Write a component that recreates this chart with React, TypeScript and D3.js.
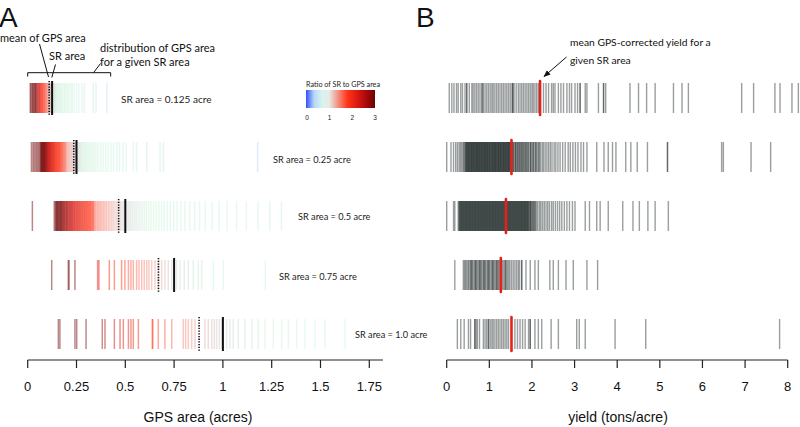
import React from "react";
import * as d3 from "d3";

// ---------- DATA ----------
const srAreas = [0.125, 0.25, 0.5, 0.75, 1.0];
const srLabels = [
  "SR area = 0.125 acre",
  "SR area = 0.25 acre",
  "SR area = 0.5 acre",
  "SR area = 0.75 acre",
  "SR area = 1.0 acre",
];

// GPS-measured areas (acres) for each SR area
const gpsArea0125 = [
  0.013, 0.017, 0.022, 0.026, 0.029, 0.034, 0.037, 0.041, 0.043, 0.048, 0.051, 0.055, 0.058, 0.061,
  0.063, 0.067, 0.07, 0.074, 0.076, 0.079, 0.083, 0.086, 0.088, 0.091, 0.094, 0.097, 0.099, 0.102,
  0.105, 0.108, 0.11, 0.113, 0.116, 0.118, 0.121, 0.123, 0.128, 0.132, 0.136, 0.141, 0.145, 0.151,
  0.155, 0.161, 0.166, 0.172, 0.178, 0.186, 0.19, 0.198, 0.205, 0.212, 0.221, 0.228, 0.238, 0.251,
  0.262, 0.278, 0.29, 0.336, 0.35, 0.405,
];
const gpsArea025 = [
  0.019, 0.027, 0.033, 0.04, 0.046, 0.052, 0.058, 0.063, 0.067, 0.071, 0.075, 0.078, 0.082, 0.086,
  0.09, 0.094, 0.098, 0.102, 0.106, 0.11, 0.114, 0.118, 0.122, 0.127, 0.131, 0.136, 0.14, 0.145,
  0.15, 0.155, 0.16, 0.165, 0.17, 0.175, 0.18, 0.186, 0.191, 0.197, 0.202, 0.208, 0.213, 0.219,
  0.224, 0.229, 0.234, 0.239, 0.244, 0.248, 0.253, 0.258, 0.264, 0.27, 0.276, 0.283, 0.29, 0.297,
  0.305, 0.312, 0.32, 0.328, 0.337, 0.345, 0.355, 0.365, 0.376, 0.388, 0.4, 0.413, 0.427, 0.44,
  0.456, 0.47, 0.488, 0.505, 0.541, 0.558, 0.61, 0.678, 0.695, 1.178,
  0.069, 0.073, 0.08, 0.084, 0.088, 0.092, 0.096, 0.1, 0.104, 0.108, 0.112, 0.116, 0.12, 0.125,
  0.129, 0.133, 0.138, 0.143, 0.148, 0.153, 0.158, 0.163, 0.168, 0.173, 0.178, 0.183, 0.189, 0.194,
];
const gpsArea05 = [
  0.024, 0.136, 0.142, 0.148, 0.153, 0.16, 0.166, 0.172, 0.178, 0.184, 0.19, 0.197, 0.203, 0.209,
  0.216, 0.222, 0.228, 0.235, 0.241, 0.248, 0.255, 0.262, 0.268, 0.275, 0.282, 0.289, 0.296, 0.303,
  0.31, 0.318, 0.325, 0.333, 0.34, 0.348, 0.356, 0.364, 0.372, 0.38, 0.388, 0.396, 0.404, 0.413,
  0.421, 0.43, 0.438, 0.447, 0.456, 0.465, 0.474, 0.483, 0.492, 0.502, 0.508, 0.517, 0.526, 0.535,
  0.545, 0.555, 0.565, 0.575, 0.586, 0.597, 0.608, 0.62, 0.632, 0.645, 0.658, 0.672, 0.686, 0.7,
  0.715, 0.73, 0.748, 0.765, 0.785, 0.805, 0.83, 0.855, 0.88, 0.91, 0.945, 0.98, 1.02, 1.07, 1.12,
  1.18, 1.24, 1.3,
  0.145, 0.151, 0.157, 0.163, 0.169, 0.175, 0.181, 0.187, 0.194, 0.2, 0.206, 0.213, 0.219, 0.225,
  0.231, 0.238, 0.245, 0.252, 0.258, 0.265, 0.272, 0.279, 0.286, 0.293, 0.3, 0.307, 0.314, 0.321,
  0.329, 0.337,
];
const gpsArea075 = [
  0.123, 0.208, 0.212, 0.242, 0.358, 0.365, 0.418, 0.444, 0.481, 0.498, 0.516, 0.529, 0.541, 0.558,
  0.57, 0.584, 0.597, 0.61, 0.621, 0.635, 0.652, 0.669, 0.686, 0.703, 0.72, 0.738, 0.763, 0.78,
  0.802, 0.823, 0.848, 0.874, 0.891, 0.951, 1.002, 1.217,
];
const gpsArea10 = [
  0.157, 0.165, 0.242, 0.251, 0.299, 0.382, 0.396, 0.444, 0.473, 0.49, 0.516, 0.529, 0.541, 0.567,
  0.638, 0.641, 0.669, 0.703, 0.738, 0.797, 0.809, 0.823, 0.84, 0.857, 0.908, 0.925, 0.943, 0.956,
  0.968, 0.982, 0.994, 1.019, 1.036, 1.053, 1.079, 1.113, 1.148, 1.181, 1.216, 1.258, 1.301, 1.335,
  1.378, 1.421, 1.472, 1.523, 1.626,
];
const gpsMeans = [0.11, 0.236, 0.466, 0.67, 0.878];

// GPS-corrected yields (tons/acre) for each SR area
const yield0125 = [
  0.06, 0.12, 0.17, 0.23, 0.27, 0.33, 0.37, 0.43, 0.47, 0.47, 0.53, 0.59, 0.62, 0.66, 0.7, 0.74, 0.78,
  0.82, 0.84, 0.86, 0.9, 0.94, 0.98, 1.02, 1.06, 1.09, 1.13, 1.17, 1.21, 1.25, 1.29, 1.33, 1.37, 1.41,
  1.45, 1.49, 1.53, 1.55, 1.55, 1.58, 1.63, 1.68, 1.72, 1.76, 1.8, 1.84, 1.88, 1.92, 1.96, 2.0, 2.03,
  2.07, 2.11, 2.15, 2.27, 2.33, 2.39, 2.46, 2.5, 2.54, 2.62, 2.68, 2.74, 2.82, 2.88, 2.93, 3.01, 3.07,
  3.13, 3.13, 3.25, 3.29, 3.56, 3.68, 3.68, 3.73, 4.3, 4.5, 4.69, 4.89, 5.32, 5.52, 5.67, 6.92, 7.2,
  7.7, 7.82, 8.1, 8.25,
];
const yield025 = [
  0.0, 0.1, 0.16, 0.21, 0.25, 0.29, 0.32, 0.35, 0.38, 0.4, 0.42, 0.44, 0.45, 0.47, 0.48, 0.5, 0.51,
  0.52, 0.54, 0.55, 0.57, 0.58, 0.59, 0.61, 0.62, 0.63, 0.65, 0.66, 0.68, 0.69, 0.7, 0.72, 0.73,
  0.74, 0.76, 0.77, 0.78, 0.8, 0.81, 0.82, 0.84, 0.85, 0.87, 0.88, 0.89, 0.91, 0.92, 0.93, 0.95,
  0.96, 0.97, 0.99, 1.0, 1.01, 1.03, 1.04, 1.06, 1.07, 1.08, 1.1, 1.11, 1.12, 1.14, 1.15, 1.16,
  1.18, 1.19, 1.21, 1.22, 1.23, 1.25, 1.26, 1.27, 1.29, 1.3, 1.32, 1.33, 1.34, 1.36, 1.37, 1.38,
  1.4, 1.41, 1.43, 1.44, 1.45, 1.47, 1.48, 1.5, 1.51, 1.53, 1.55, 1.57, 1.6, 1.62, 1.64, 1.67, 1.69,
  1.72, 1.74, 1.77, 1.79, 1.82, 1.85, 1.87, 1.9, 1.93, 1.96, 1.98, 2.01, 2.04, 2.07, 2.1, 2.13, 2.17,
  2.2, 2.24, 2.27, 2.31, 2.35, 2.39, 2.43, 2.47, 2.52, 2.56, 2.61, 2.66, 2.72, 2.78, 2.85, 2.9, 2.96,
  3.02, 3.08, 3.15, 3.21, 3.29, 3.52, 3.69, 3.79, 3.89, 3.97, 4.2, 4.32, 4.47, 4.71, 5.18, 5.18,
  6.45, 6.49, 7.14, 7.6,
  0.455, 0.485, 0.515, 0.545, 0.575, 0.605, 0.635, 0.665, 0.695, 0.725, 0.755, 0.785, 0.815, 0.845,
  0.875, 0.905, 0.935, 0.965, 0.995, 1.025, 1.055, 1.085, 1.115, 1.145, 1.175, 1.205, 1.235, 1.265,
  1.295, 1.325, 1.355, 1.385, 1.415, 1.445, 1.475, 1.505, 1.56, 1.61, 1.66, 1.71, 1.76, 1.81, 1.86,
  1.91, 1.97, 2.03, 2.09, 2.16,
];
const yield05 = [
  0.0, 0.16, 0.19, 0.27, 0.29, 0.3, 0.32, 0.33, 0.35, 0.36, 0.38, 0.39, 0.41, 0.42, 0.44, 0.45, 0.47,
  0.48, 0.5, 0.51, 0.53, 0.54, 0.56, 0.57, 0.59, 0.6, 0.62, 0.63, 0.65, 0.66, 0.68, 0.69, 0.71, 0.72,
  0.74, 0.75, 0.77, 0.78, 0.8, 0.81, 0.83, 0.84, 0.86, 0.87, 0.89, 0.9, 0.92, 0.93, 0.95, 0.96, 0.98,
  0.99, 1.01, 1.02, 1.04, 1.05, 1.07, 1.08, 1.1, 1.11, 1.13, 1.14, 1.16, 1.17, 1.19, 1.2, 1.22, 1.23,
  1.25, 1.26, 1.28, 1.29, 1.31, 1.32, 1.34, 1.35, 1.37, 1.38, 1.4, 1.42, 1.43, 1.45, 1.47, 1.48, 1.5,
  1.52, 1.53, 1.55, 1.57, 1.58, 1.6, 1.62, 1.64, 1.65, 1.67, 1.69, 1.71, 1.73, 1.75, 1.77, 1.79, 1.81,
  1.83, 1.85, 1.87, 1.89, 1.91, 1.93, 1.96, 1.98, 2.0, 2.03, 2.05, 2.08, 2.11, 2.14, 2.18, 2.21, 2.25,
  2.29, 2.33, 2.37, 2.41, 2.46, 2.5, 2.55, 2.6, 2.65, 2.7, 2.76, 2.82, 2.88, 2.95, 3.01, 3.25, 3.35,
  3.52, 3.6, 3.79, 4.13, 4.37, 4.52, 4.72, 4.89, 5.2,
  0.31, 0.34, 0.37, 0.4, 0.43, 0.46, 0.49, 0.52, 0.55, 0.58, 0.61, 0.64, 0.67, 0.7, 0.73, 0.76, 0.79,
  0.82, 0.85, 0.88, 0.91, 0.94, 0.97, 1.0, 1.03, 1.06, 1.09, 1.12, 1.15, 1.18, 1.21, 1.24, 1.27, 1.3,
  1.33, 1.36, 1.39, 1.41, 1.44, 1.46, 1.49, 1.51, 1.54, 1.56, 1.59, 1.61, 1.63, 1.66, 1.68, 1.7, 1.72,
  1.74, 1.76, 1.78, 1.8, 1.82, 1.84, 1.86, 1.88, 1.9, 1.92, 1.95, 1.97, 2.02, 2.07,
];
const yield075 = [
  0.19, 0.39, 0.42, 0.44, 0.47, 0.5, 0.52, 0.55, 0.57, 0.6, 0.62, 0.65, 0.67, 0.7, 0.72, 0.75, 0.77,
  0.8, 0.82, 0.85, 0.87, 0.9, 0.92, 0.95, 0.97, 1.0, 1.02, 1.05, 1.07, 1.1, 1.12, 1.15, 1.17, 1.2,
  1.22, 1.25, 1.27, 1.3, 1.33, 1.36, 1.39, 1.42, 1.45, 1.48, 1.52, 1.56, 1.6, 1.64, 1.68, 1.71, 1.76,
  1.76, 1.86, 1.96, 2.07, 2.15, 2.42, 2.5, 2.62, 2.8, 2.97, 3.29, 3.54,
  0.58, 0.68, 0.78, 0.88, 0.98, 1.08, 1.18, 1.28, 1.38,
];
const yield10 = [
  0.25, 0.33, 0.41, 0.51, 0.56, 0.66, 0.66, 0.69, 0.72, 0.77, 0.86, 0.9, 0.94, 0.98, 0.98, 1.02, 1.06,
  1.09, 1.13, 1.17, 1.21, 1.25, 1.29, 1.33, 1.37, 1.41, 1.45, 1.6, 1.66, 1.72, 1.78, 1.84, 1.92, 1.96,
  1.96, 2.07, 2.15, 2.23, 2.45, 2.62, 3.05, 3.11, 3.25, 3.95, 4.67, 7.81,
];
const yieldMeans = [2.19, 1.52, 1.39, 1.27, 1.52];

const gpsRows = [gpsArea0125, gpsArea025, gpsArea05, gpsArea075, gpsArea10];
const yieldRows = [yield0125, yield025, yield05, yield075, yield10];

const gpsTicks = [0, 0.25, 0.5, 0.75, 1, 1.25, 1.5, 1.75];
const yieldTicks = [0, 1, 2, 3, 4, 5, 6, 7, 8];
const legendTicks = [0, 1, 2, 3];

// ratio (SR / GPS) colour ramp used for the marks
const ratioStops = [0, 0.15, 0.45, 0.8, 1, 1.2, 1.55, 2.2, 3];
const ratioColors = [
  "#3050ff", "#b4cdef", "#d0f1e4", "#cdf3d8", "#cdd1d0", "#f29486", "#ff3418", "#d01510", "#6e0000",
];
// colour bar of the legend
const legendStops = [0, 0.35, 0.7, 1, 1.3, 1.8, 2.4, 3];
const legendColors = ["#3050ff", "#b8d6f6", "#d6f4ee", "#e6ece8", "#f0a69a", "#ff3418", "#c81010", "#6e0000"];

// ---------- LAYOUT ----------
const W = 800;
const H = 427;
const AXIS_Y = 360;
const ROW_HALF = 15;
const labelX = [121, 273, 298, 279, 355];
const labelDy = [2, 3, 1, 2, 1];
const labelSize = [10, 9.2, 9.2, 9.2, 9.2];
const FONT_AX = "'Liberation Sans', Arial, Helvetica, sans-serif";
const FONT_NOTE = "Lato, 'Open Sans', sans-serif";

export default function App() {
  const xA = d3.scaleLinear().domain([0, 1.75]).range([27.7, 369.3]);
  const xB = d3.scaleLinear().domain([0, 8]).range([446.7, 787.7]);
  const yRow = d3.scalePoint<number>().domain(d3.range(5)).range([98, 334]);
  const ratioColor = d3
    .scaleLinear<string>()
    .domain(ratioStops)
    .range(ratioColors)
    .interpolate(d3.interpolateRgb)
    .clamp(true);
  const xLeg = d3.scaleLinear().domain([0, 3]).range([307, 375]);

  return (
    <svg
      width={W}
      height={H}
      viewBox={`0 0 ${W} ${H}`}
      style={{ position: "absolute", left: 0, top: 0, background: "#fff" }}
    >
      <defs>
        <linearGradient id="ratioGrad" x1="0" x2="1" y1="0" y2="0">
          {legendStops.map((s, i) => (
            <stop key={i} offset={`${(s / 3) * 100}%`} stopColor={legendColors[i]} />
          ))}
        </linearGradient>
        <marker id="arrowHead" viewBox="0 0 10 10" refX="9" refY="5" markerWidth="7" markerHeight="7" orient="auto">
          <path d="M0,1 L10,5 L0,9 z" fill="#111" />
        </marker>
      </defs>

      {/* ================= PANEL A ================= */}
      <text x={-1} y={27} fontFamily={FONT_AX} fontSize={28} fill="#111">A</text>

      {/* annotations */}
      <g fontFamily={FONT_NOTE} fontSize={11} fill="#111">
        <text x={0} y={42}>mean of GPS area</text>
        <text x={49} y={60}>SR area</text>
        <text x={100} y={52}>distribution of GPS area</text>
        <text x={100} y={66}>for a given SR area</text>
      </g>
      <g stroke="#111" strokeWidth={1} fill="none">
        <path d={`M${xA(0)},76.5 V72.7 H${xA(0.425)} V76.5`} />
        <line x1={93.5} y1={72.7} x2={100.5} y2={63.5} />
        <line x1={39.5} y1={44} x2={48.5} y2={77} />
        <line x1={55.5} y1={64.5} x2={51.8} y2={77.5} />
      </g>

      {/* legend */}
      <text x={343} y={87} textAnchor="middle" fontFamily={FONT_NOTE} fontSize={7.2} fill="#222">
        Ratio of SR to GPS area
      </text>
      <rect x={xLeg(0) - 1} y={90} width={xLeg(3) - xLeg(0) + 1} height={18} fill="url(#ratioGrad)" />
      {legendTicks.map((t) => (
        <text key={t} x={xLeg(t)} y={120} textAnchor="middle" fontFamily={FONT_AX} fontSize={6.5} fill="#222">
          {t}
        </text>
      ))}

      {/* rows */}
      {gpsRows.map((vals, i) => {
        const yc = yRow(i) as number;
        return (
          <g key={`a${i}`}>
            {vals.map((v, j) => (
              <line
                key={j}
                x1={xA(v)}
                x2={xA(v)}
                y1={yc - ROW_HALF}
                y2={yc + ROW_HALF}
                stroke={ratioColor(srAreas[i] / v)}
                strokeOpacity={0.47}
                strokeWidth={1.5}
              />
            ))}
            <line
              x1={xA(gpsMeans[i])}
              x2={xA(gpsMeans[i])}
              y1={yc - ROW_HALF - 2}
              y2={yc + ROW_HALF + 2}
              stroke="#111"
              strokeWidth={1.6}
              strokeDasharray="1.3 1.4"
            />
            <line
              x1={xA(srAreas[i])}
              x2={xA(srAreas[i])}
              y1={yc - ROW_HALF - 2}
              y2={yc + ROW_HALF + 2}
              stroke="#111"
              strokeWidth={2}
            />
            <text
              x={labelX[i]}
              y={yc + labelDy[i] + 3}
              fontFamily={FONT_NOTE}
              fontSize={labelSize[i]}
              fill="#222"
            >
              {srLabels[i]}
            </text>
          </g>
        );
      })}

      {/* axis A */}
      <g stroke="#222" strokeWidth={1.2}>
        <line x1={xA(0)} x2={xA(1.82)} y1={AXIS_Y} y2={AXIS_Y} />
        {gpsTicks.map((t) => (
          <line key={t} x1={xA(t)} x2={xA(t)} y1={AXIS_Y} y2={AXIS_Y + 8} />
        ))}
      </g>
      {gpsTicks.map((t) => (
        <text key={t} x={xA(t)} y={391} textAnchor="middle" fontFamily={FONT_AX} fontSize={13} fill="#111">
          {String(t)}
        </text>
      ))}
      <text x={198} y={422} textAnchor="middle" fontFamily={FONT_AX} fontSize={14} fill="#111">
        GPS area (acres)
      </text>

      {/* ================= PANEL B ================= */}
      <text x={416} y={27} fontFamily={FONT_AX} fontSize={28} fill="#111">B</text>
      <g fontFamily={FONT_NOTE} fontSize={10.3} fill="#111">
        <text x={570} y={46}>mean GPS-corrected yield for a</text>
        <text x={570} y={64}>given SR area</text>
      </g>
      <line x1={566.5} y1={57} x2={544} y2={76.5} stroke="#111" strokeWidth={1} markerEnd="url(#arrowHead)" />

      {yieldRows.map((vals, i) => {
        const yc = yRow(i) as number;
        return (
          <g key={`b${i}`}>
            {vals.map((v, j) => (
              <line
                key={j}
                x1={xB(v)}
                x2={xB(v)}
                y1={yc - ROW_HALF}
                y2={yc + ROW_HALF}
                stroke="#1e2828"
                strokeOpacity={0.45}
                strokeWidth={1.4}
              />
            ))}
            <line
              x1={xB(yieldMeans[i])}
              x2={xB(yieldMeans[i])}
              y1={yc - ROW_HALF - 2}
              y2={yc + ROW_HALF + 2}
              stroke="#e2231a"
              strokeWidth={2.6}
              strokeLinecap="round"
            />
          </g>
        );
      })}

      {/* axis B */}
      <g stroke="#222" strokeWidth={1.2}>
        <line x1={xB(0)} x2={xB(8)} y1={AXIS_Y} y2={AXIS_Y} />
        {yieldTicks.map((t) => (
          <line key={t} x1={xB(t)} x2={xB(t)} y1={AXIS_Y} y2={AXIS_Y + 8} />
        ))}
      </g>
      {yieldTicks.map((t) => (
        <text key={t} x={xB(t)} y={391} textAnchor="middle" fontFamily={FONT_AX} fontSize={13} fill="#111">
          {String(t)}
        </text>
      ))}
      <text x={618} y={422} textAnchor="middle" fontFamily={FONT_AX} fontSize={14} fill="#111">
        yield (tons/acre)
      </text>
    </svg>
  );
}
